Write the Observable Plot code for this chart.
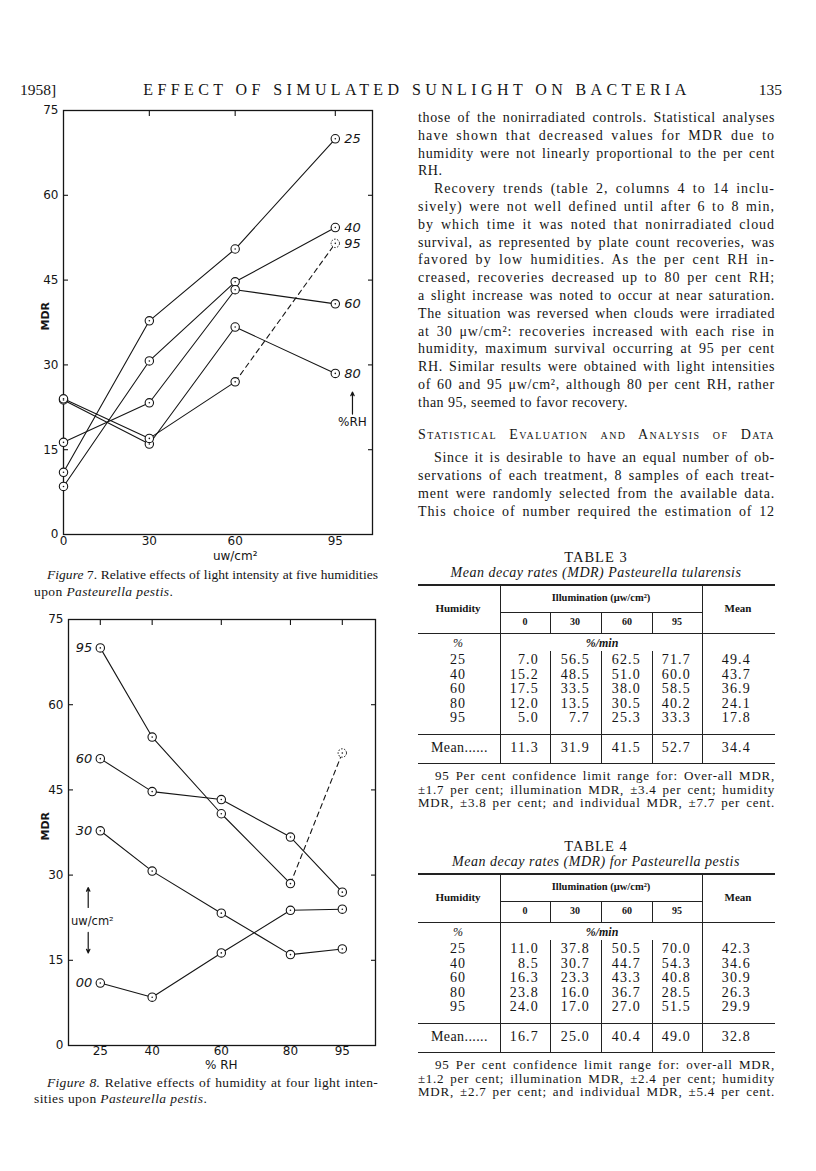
<!DOCTYPE html>
<html><head><meta charset="utf-8">
<script src="https://cdn.jsdelivr.net/npm/d3@7"></script>
<script src="https://cdn.jsdelivr.net/npm/@observablehq/plot@0.6"></script>
<style>
html,body{margin:0;padding:0;background:#fff;}
#page{width:816px;height:1171px;position:relative;overflow:hidden;font-family:"Liberation Serif",serif;color:#151515;}
.abs{position:absolute;white-space:nowrap;}
.ln{position:absolute;white-space:nowrap;height:18px;line-height:18px;font-size:14px;}
.j{text-align:justify;text-align-last:justify;}
.rule{position:absolute;background:#222;}
.fig{position:absolute;left:0;}
</style>
</head><body><div id="page"></div>
<script>
// ---------- data (Table 4: MDR for Pasteurella pestis, %/min) ----------
const lightLevels = [0, 30, 60, 95];            // uw/cm2
const humidityLevels = [25, 40, 60, 80, 95];    // % RH
const pestis25 = [11.0, 37.8, 50.5, 70.0];
const pestis40 = [8.5, 30.7, 44.7, 54.3];
const pestis60 = [16.3, 23.3, 43.3, 40.8];
const pestis80 = [23.8, 16.0, 36.7, 28.5];
const pestis95 = [24.0, 17.0, 27.0, 51.5];
const pestisRowMeans = [42.3, 34.6, 30.9, 26.3, 29.9];
const pestisColMeans = [16.7, 25.0, 40.4, 49.0];
const pestisGrandMean = 32.8;
// Table 3: MDR for Pasteurella tularensis
const tul25 = [7.0, 56.5, 62.5, 71.7];
const tul40 = [15.2, 48.5, 51.0, 60.0];
const tul60 = [17.5, 33.5, 38.0, 58.5];
const tul80 = [12.0, 13.5, 30.5, 40.2];
const tul95 = [5.0, 7.7, 25.3, 33.3];
const tulRowMeans = [49.4, 43.7, 36.9, 24.1, 17.8];
const tulColMeans = [11.3, 31.9, 41.5, 52.7];
const tulGrandMean = 34.4;
// axis ticks and series labels
const mdrTicks = [0, 15, 30, 45, 60, 75];
const fig7SeriesLabels = ["25", "40", "60", "80", "95"];
const fig8SeriesLabels = ["00", "30", "60", "95"];
const doubtfulRH = 95, doubtfulLight = 95;

const page = document.getElementById("page");
const pestisRows = [pestis25, pestis40, pestis60, pestis80, pestis95];
const tulRows = [tul25, tul40, tul60, tul80, tul95];

const cells = [];
humidityLevels.forEach((rh, i) => lightLevels.forEach((lux, j) => cells.push({
  rh, light: lux, mdr: pestisRows[i][j], doubtful: rh === doubtfulRH && lux === doubtfulLight
})));
const solidCells = cells.filter(d => !d.doubtful);
const doubtCells = cells.filter(d => d.doubtful);

const INK = "#151515";
const axisFont = {fontSize: 12, fill: INK};
const ticks = (ax, values, anchor) => ax(values, {anchor, tickSize: -5, tickFormat: () => "", label: null, stroke: INK, strokeWidth: 1.1});

// ---------- Figure 7 ----------
const fig7 = Plot.plot({
  width: 400, height: 470,
  marginLeft: 63, marginRight: 28, marginTop: 15, marginBottom: 31,
  x: {domain: [0, 108]},
  y: {domain: [0, 75]},
  style: {fontFamily: "DejaVu Sans", background: "none", overflow: "visible", color: INK},
  marks: [
    Plot.axisY(mdrTicks, {anchor: "left", tickSize: 0, tickPadding: 5, label: null, ...axisFont}),
    ticks(Plot.axisY, mdrTicks.slice(1, -1), "left"),
    ticks(Plot.axisY, mdrTicks.slice(1, -1), "right"),
    Plot.axisX(lightLevels, {anchor: "bottom", tickSize: 0, tickPadding: 2, label: null, ...axisFont}),
    ticks(Plot.axisX, lightLevels.slice(1), "top"),
    Plot.frame({stroke: INK, strokeWidth: 1.3}),
    Plot.text(["uw/cm²"], {x: 60, frameAnchor: "bottom", dy: 25, text: d => d, fontSize: 12, fill: INK}),
    Plot.text(["MDR"], {frameAnchor: "left", dx: -18, dy: 8, rotate: -90, text: d => d, fontSize: 11, fontWeight: "bold", fill: INK}),
    Plot.line(solidCells, {x: "light", y: "mdr", z: "rh", stroke: INK, strokeWidth: 1.1}),
    Plot.line(cells.filter(d => d.rh === doubtfulRH && d.light >= 60), {x: "light", y: "mdr", stroke: INK, strokeWidth: 1.1, strokeDasharray: "5,4"}),
    Plot.dot(solidCells, {x: "light", y: "mdr", r: 4.2, fill: "white", stroke: INK, strokeWidth: 1.1}),
    Plot.dot(doubtCells, {x: "light", y: "mdr", r: 4.2, fill: "white", stroke: INK, strokeWidth: 1, strokeDasharray: "1.6,1.4"}),
    Plot.dot(cells, {x: "light", y: "mdr", r: 0.8, fill: INK}),
    Plot.text(cells.filter(d => d.light === 95), {x: "light", y: "mdr", text: d => fig7SeriesLabels[humidityLevels.indexOf(d.rh)], dx: 9, textAnchor: "start", fontStyle: "italic", fontSize: 13, fill: INK}),
    Plot.arrow([0], {x1: 101, y1: 21.3, x2: 101, y2: 25.2, stroke: INK, strokeWidth: 1.2, headLength: 5, headAngle: 50}),
    Plot.text(["%RH"], {x: 101, y: 19.8, text: d => d, fontSize: 12, fill: INK})
  ]
});
fig7.classList.add("fig");
fig7.style.top = "95px";
page.appendChild(fig7);

// ---------- Figure 8 ----------
const fig8 = Plot.plot({
  width: 400, height: 475,
  marginLeft: 68, marginRight: 25, marginTop: 19, marginBottom: 30,
  x: {domain: [15.8, 104.6]},
  y: {domain: [0, 75]},
  style: {fontFamily: "DejaVu Sans", background: "none", overflow: "visible", color: INK},
  marks: [
    Plot.axisY(mdrTicks, {anchor: "left", tickSize: 0, tickPadding: 5, label: null, ...axisFont}),
    ticks(Plot.axisY, mdrTicks.slice(1, -1), "left"),
    ticks(Plot.axisY, mdrTicks.slice(1, -1), "right"),
    Plot.axisX(humidityLevels, {anchor: "bottom", tickSize: 0, tickPadding: 1, label: null, ...axisFont}),
    ticks(Plot.axisX, humidityLevels, "top"),
    Plot.frame({stroke: INK, strokeWidth: 1.3}),
    Plot.text(["% RH"], {x: 60, frameAnchor: "bottom", dy: 23, text: d => d, fontSize: 12, fill: INK}),
    Plot.text(["MDR"], {frameAnchor: "left", dx: -23, dy: 8, rotate: -90, text: d => d, fontSize: 11, fontWeight: "bold", fill: INK}),
    Plot.line(solidCells, {x: "rh", y: "mdr", z: "light", stroke: INK, strokeWidth: 1.1}),
    Plot.line(cells.filter(d => d.light === doubtfulLight && d.rh >= 80), {x: "rh", y: "mdr", stroke: INK, strokeWidth: 1.1, strokeDasharray: "5,4"}),
    Plot.dot(solidCells, {x: "rh", y: "mdr", r: 4.2, fill: "white", stroke: INK, strokeWidth: 1.1}),
    Plot.dot(doubtCells, {x: "rh", y: "mdr", r: 4.2, fill: "white", stroke: INK, strokeWidth: 1, strokeDasharray: "1.6,1.4"}),
    Plot.dot(cells, {x: "rh", y: "mdr", r: 0.8, fill: INK}),
    Plot.text(cells.filter(d => d.rh === 25), {x: "rh", y: "mdr", text: d => fig8SeriesLabels[lightLevels.indexOf(d.light)], dx: -8, textAnchor: "end", fontStyle: "italic", fontSize: 13, fill: INK}),
    Plot.arrow([0], {x1: 21.5, y1: 24.3, x2: 21.5, y2: 27.8, stroke: INK, strokeWidth: 1.2, headLength: 5, headAngle: 50}),
    Plot.text(["uw/cm²"], {x: 22.7, y: 21.8, text: d => d, fontSize: 11.5, fill: INK}),
    Plot.arrow([0], {x1: 21.5, y1: 19.9, x2: 21.5, y2: 16.3, stroke: INK, strokeWidth: 1.2, headLength: 5, headAngle: 50})
  ]
});
fig8.classList.add("fig");
fig8.style.top = "600px";
page.appendChild(fig8);

// ---------- helpers for page text ----------
function line(html, left, width, centerY, opts = {}) {
  const d = document.createElement("div");
  d.className = "ln" + (opts.justify ? " j fit" : "");
  d.innerHTML = html;
  d.style.left = left + "px";
  if (width) d.style.width = width + "px";
  d.style.top = (centerY - 9) + "px";
  if (opts.size) d.style.fontSize = opts.size + "px";
  if (opts.style) d.style.cssText += opts.style;
  page.appendChild(d);
  return d;
}
function put(html, x, y, anchor, size, style = "") {
  const d = document.createElement("div");
  d.className = "abs";
  d.innerHTML = html;
  d.style.cssText += `font-size:${size}px;line-height:${size}px;top:${y - size / 2}px;` + style;
  if (anchor === "left") d.style.left = x + "px";
  else if (anchor === "right") d.style.right = (816 - x) + "px";
  else { d.style.left = x + "px"; d.style.transform = "translateX(-50%)"; }
  page.appendChild(d);
  return d;
}
function rule(x, y, w, h) {
  const d = document.createElement("div");
  d.className = "rule";
  d.style.cssText += `left:${x}px;top:${y}px;width:${w}px;height:${h}px;`;
  page.appendChild(d);
}

// running head
put("1958]", 20, 90, "left", 15.5);
put("EFFECT OF SIMULATED SUNLIGHT ON BACTERIA", 417, 90, "center", 16, "letter-spacing:4.4px;");
put("135", 782, 90, "right", 15.5);

// figure captions
line("<i>Figure</i> 7. Relative effects of light intensity at five humidities", 47, 331, 575, {justify: true, size: 13.5});
line("upon <i>Pasteurella pestis</i>.", 34, null, 592, {size: 13.5, style: "letter-spacing:0.4px;"});
line("<i>Figure 8.</i> Relative effects of humidity at four light inten-", 47, 331, 1083, {justify: true, size: 13.5});
line("sities upon <i>Pasteurella pestis</i>.", 34, null, 1099, {size: 13.5, style: "letter-spacing:0.4px;"});

// right column text
const bodyLines = [
  ["those of the nonirradiated controls. Statistical analyses", 0, true],
  ["have shown that decreased values for MDR due to", 0, true],
  ["humidity were not linearly proportional to the per cent", 0, true],
  ["RH.", 0, false],
  ["Recovery trends (table 2, columns 4 to 14 inclu-", 16, true],
  ["sively) were not well defined until after 6 to 8 min,", 0, true],
  ["by which time it was noted that nonirradiated cloud", 0, true],
  ["survival, as represented by plate count recoveries, was", 0, true],
  ["favored by low humidities. As the per cent RH in-", 0, true],
  ["creased, recoveries decreased up to 80 per cent RH;", 0, true],
  ["a slight increase was noted to occur at near saturation.", 0, true],
  ["The situation was reversed when clouds were irradiated", 0, true],
  ["at 30 μw/cm²: recoveries increased with each rise in", 0, true],
  ["humidity, maximum survival occurring at 95 per cent", 0, true],
  ["RH. Similar results were obtained with light intensities", 0, true],
  ["of 60 and 95 μw/cm², although 80 per cent RH, rather", 0, true],
  ["than 95, seemed to favor recovery.", 0, false]
];
bodyLines.forEach(([t, ind, j], i) => line(t, 418 + ind, j ? 357 - ind : null, 118 + 17.8 * i, {justify: j, style: j ? "" : "letter-spacing:0.5px;"}));
line("Statistical Evaluation and Analysis of Data", 418, 357, 435, {justify: true, style: "font-variant:small-caps;"});
const para2 = [
  ["Since it is desirable to have an equal number of ob-", 16],
  ["servations of each treatment, 8 samples of each treat-", 0],
  ["ment were randomly selected from the available data.", 0],
  ["This choice of number required the estimation of 12", 0]
];
para2.forEach(([t, ind], i) => line(t, 418 + ind, 357 - ind, 458 + 18 * i, {justify: true}));

// ---------- tables ----------
function table(off, num, subtitle, rows, rowMeans, colMeans, grand, foot) {
  const L = 418, R = 775, C1 = 500, C5 = 702, sub = [550, 601, 652];
  put(`TABLE ${num}`, 596, 557 + off, "center", 14.5, "letter-spacing:1px;");
  put(subtitle, 596, 573 + off, "center", 14, "font-style:italic;letter-spacing:0.5px;");
  rule(L, 584 + off, R - L, 1.6);
  rule(C1, 585 + off, 1, 763 - 585);
  rule(C5, 585 + off, 1, 763 - 585);
  rule(C1, 612 + off, C5 - C1, 1);
  sub.forEach(x => { rule(x, 612 + off, 1, 21); rule(x, 651 + off, 1, 763 - 651); });
  rule(L, 633 + off, R - L, 1.2);
  rule(L, 734 + off, R - L, 1.2);
  rule(L, 763 + off, R - L, 1.4);
  put("Illumination (μw/cm²)", 601, 598 + off, "center", 10.5, "font-weight:bold;");
  put("Humidity", 458, 608 + off, "center", 11, "font-weight:bold;");
  put("Mean", 738, 608 + off, "center", 11, "font-weight:bold;");
  const subCenters = [525, 575, 627, 677];
  lightLevels.forEach((v, j) => put(String(v), subCenters[j], 622 + off, "center", 10, "font-weight:bold;"));
  put("%", 458, 643 + off, "center", 12, "font-style:italic;");
  put("%/min", 602, 643 + off, "center", 12, "font-style:italic;font-weight:bold;");
  const rightEdges = [539, 590, 641, 691];
  humidityLevels.forEach((h, i) => {
    const y = 660 + 14.6 * i + off;
    put(String(h), 458, y, "center", 14, "letter-spacing:1px;");
    rows[i].forEach((v, j) => put(v.toFixed(1), rightEdges[j], y, "right", 14, "letter-spacing:1.2px;"));
    put(rowMeans[i].toFixed(1), 751, y, "right", 14, "letter-spacing:1.2px;");
  });
  put("Mean......", 431, 748 + off, "left", 14, "letter-spacing:0.4px;");
  colMeans.forEach((v, j) => put(v.toFixed(1), rightEdges[j], 748 + off, "right", 14, "letter-spacing:1.2px;"));
  put(grand.toFixed(1), 751, 748 + off, "right", 14, "letter-spacing:1.2px;");
  foot.forEach((t, i) => line(t, 418 + (i === 0 ? 17 : 0), 357 - (i === 0 ? 17 : 0), 776 + 13.5 * i + off, {justify: true, size: 13}));
}
table(0, 3, "Mean decay rates (MDR) Pasteurella tularensis", tulRows, tulRowMeans, tulColMeans, tulGrandMean, [
  "95 Per cent confidence limit range for: Over-all MDR,",
  "±1.7 per cent; illumination MDR, ±3.4 per cent; humidity",
  "MDR, ±3.8 per cent; and individual MDR, ±7.7 per cent."
]);
table(289, 4, "Mean decay rates (MDR) for Pasteurella pestis", pestisRows, pestisRowMeans, pestisColMeans, pestisGrandMean, [
  "95 Per cent confidence limit range for: over-all MDR,",
  "±1.2 per cent; illumination MDR, ±2.4 per cent; humidity",
  "MDR, ±2.7 per cent; and individual MDR, ±5.4 per cent."
]);

// fit justified lines: spread part of the slack as letter-spacing, let justification take the rest
document.querySelectorAll(".fit").forEach(el => {
  const target = parseFloat(el.style.width);
  el.style.width = "auto";
  const natural = el.getBoundingClientRect().width;
  const n = el.textContent.length;
  const base = parseFloat(getComputedStyle(el).letterSpacing) || 0;
  let ls = Math.max(-1, Math.min(1.4, base + (target - natural) * 0.7 / n));
  el.style.letterSpacing = ls + "px";
  el.style.width = target + "px";
  let guard = 0;
  while (el.scrollWidth > el.clientWidth + 0.5 && guard++ < 60) {
    ls -= 0.1;
    el.style.letterSpacing = ls + "px";
  }
});
</script>
</body></html>
